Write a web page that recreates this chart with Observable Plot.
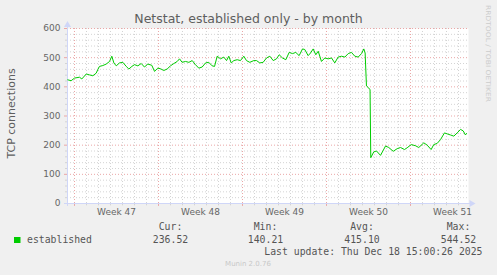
<!DOCTYPE html>
<html><head><meta charset="utf-8">
<script src="https://cdn.jsdelivr.net/npm/d3@7"></script>
<script src="https://cdn.jsdelivr.net/npm/@observablehq/plot@0.6"></script>
<style>
html,body{margin:0;padding:0;background:#f0f0f0;}
#chart{position:relative;width:497px;height:275px;background:#f0f0f0;overflow:hidden;}
</style></head><body><div id="chart"></div>
<script>
// ---- data ----
const title = "Netstat, established only - by month";
const yLabel = "TCP connections";
const weekLabels = ["Week 47", "Week 48", "Week 49", "Week 50", "Week 51"];
const weekStarts = ["2025-11-17", "2025-11-24", "2025-12-01", "2025-12-08", "2025-12-15"];
const xStart = "2025-11-16T10:00:00Z";
const xEnd = "2025-12-19T20:00:00Z";
const yTicks = [0, 100, 200, 300, 400, 500, 600];
// days since Mon 2025-11-17 00:00 UTC
const dayOffsets = [
  -0.56, -0.28, 0, 0.42, 0.61, 0.98, 1.25, 1.53, 1.81, 1.94, 2.08, 2.36, 2.64, 2.92, 3.11, 3.28, 3.48, 3.75,
  4.03, 4.31, 4.53, 4.78, 5.0, 5.28, 5.56, 5.83, 6.11, 6.44, 6.67, 6.94,
  7.17, 7.44, 7.72, 8.0, 8.28, 8.56, 8.75, 8.97, 9.25, 9.53, 9.81, 10.08, 10.36, 10.64, 10.92, 11.19, 11.47,
  11.67, 11.89, 12.17, 12.44, 12.67, 12.86, 13.06, 13.28, 13.56, 13.83, 14.11, 14.33, 14.61, 14.94,
  15.17, 15.44, 15.72, 16.0, 16.28, 16.56, 16.83, 17.06, 17.33, 17.61, 17.89, 18.17, 18.44, 18.72, 19.0,
  19.19, 19.47, 19.67, 19.89, 20.11, 20.31, 20.58, 20.86, 21.14, 21.42, 21.69, 21.97, 22.25, 22.53, 22.81,
  23.08, 23.36, 23.64, 23.92, 24.11, 24.22, 24.33, 24.5, 24.63, 24.69,
  24.94, 25.17, 25.5, 25.92, 26.19, 26.56, 26.89, 27.17, 27.5, 27.72, 28.06, 28.42, 28.69, 29.11, 29.39,
  29.72, 29.94, 30.22, 30.5, 30.83, 31.11, 31.33, 31.61, 31.89, 32.17, 32.39, 32.58, 32.67
];
const established = [
  424, 421, 430, 433, 427, 444, 441, 438, 447, 459, 470, 473, 478, 487, 505, 482, 472, 482,
  484, 470, 461, 470, 476, 472, 480, 468, 478, 474, 453, 464,
  462, 456, 461, 472, 480, 487, 496, 484, 487, 484, 490, 476, 464, 468, 482, 484, 472,
  470, 505, 496, 502, 490, 505, 482, 490, 493, 490, 505, 490, 484, 490,
  490, 482, 484, 499, 505, 490, 496, 510, 499, 493, 518, 514, 518, 507, 530,
  528, 507, 516, 530, 510, 522, 487, 499, 496, 499, 482, 502, 505, 502, 514,
  518, 505, 502, 514, 530, 516, 403, 397, 390, 157,
  177, 180, 165, 197, 192, 179, 188, 192, 185, 191, 202, 198, 192, 208, 200,
  185, 202, 206, 219, 242, 238, 235, 231, 242, 254, 249, 235, 240
];
const seriesName = "established";
const seriesColor = "#00CC00";
const statLabels = ["Cur:", "Min:", "Avg:", "Max:"];
const statValues = ["236.52", "140.21", "415.10", "544.52"];
const lastUpdate = "Last update: Thu Dec 18 15:00:26 2025";
const footer = "Munin 2.0.76";
const watermark = "RRDTOOL / TOBI OETIKER";

// ---- derived ----
const base = new Date(weekStarts[0] + "T00:00:00Z");
const DAY = 864e5;
const data = dayOffsets.map((d, i) => ({t: new Date(+base + d * DAY), v: established[i]}));
const x0 = new Date(xStart), x1 = new Date(xEnd);
const weekDates = weekStarts.map(s => new Date(s + "T00:00:00Z"));
const weekKeys = new Set(weekDates.map(d => +d));
const days = d3.utcDay.range(d3.utcDay.ceil(x0), x1);
const minorDays = days.filter(d => !weekKeys.has(+d));
const weekMids = weekDates.map(d => new Date(+d + 3.5 * DAY));
const minorY = d3.range(0, 601, 20).filter(v => v % 100 !== 0);

const GRID = "#d4d4d4";
const MGRID = "#eaa7a7";
const AXIS = "#CFD6F8";
const FONT = "#666666";
const dash = "1,2";
const hr = 3600e3;

const plot = Plot.plot({
  width: 497,
  height: 275,
  marginLeft: 67,
  marginRight: 29,
  marginTop: 28,
  marginBottom: 72,
  style: {background: "#f0f0f0", fontFamily: "DejaVu Sans", fontSize: "9px", color: FONT},
  x: {type: "utc", domain: [x0, x1], axis: null},
  y: {domain: [0, 600], ticks: yTicks, tickSize: 0, tickPadding: 7, label: null, tickFormat: d => String(d)},
  marks: [
    Plot.frame({fill: "white", stroke: null}),
    Plot.ruleY(minorY, {stroke: GRID, strokeDasharray: dash}),
    Plot.ruleX(minorDays, {stroke: GRID, strokeDasharray: dash}),
    Plot.ruleY(yTicks, {stroke: MGRID, strokeDasharray: dash}),
    Plot.ruleX(weekDates, {stroke: MGRID, strokeDasharray: dash}),
    // small ticks below x axis and left of y axis
    Plot.ruleX(minorDays, {y1: 0, y2: -8, stroke: GRID}),
    Plot.ruleX(weekDates, {y1: 0, y2: -10, stroke: MGRID}),
    Plot.ruleY(minorY, {x1: new Date(+x0 - 4 * hr), x2: x0, stroke: GRID}),
    Plot.ruleY(yTicks, {x1: new Date(+x0 - 6 * hr), x2: x0, stroke: MGRID}),
    // axes
    Plot.ruleY([0], {x1: new Date(+x0 - 6 * hr), x2: new Date(+x1 + 4 * hr), stroke: AXIS}),
    Plot.ruleX([x0], {y1: -10, y2: 612, stroke: AXIS}),
    Plot.dot([{t: x0, v: 612}], {x: "t", y: "v", symbol: "triangle", r: 2.6, fill: AXIS, stroke: null}),
    Plot.dot([{t: new Date(+x1 + 6 * hr), v: 0}], {x: "t", y: "v", symbol: "triangle", r: 2.6, fill: AXIS, stroke: null, rotate: 90}),
    // series
    Plot.line(data, {x: "t", y: "v", stroke: seriesColor, strokeWidth: 1}),
    // week labels
    Plot.text(weekLabels, {x: (d, i) => weekMids[i], y: () => 0, dy: 9, fill: FONT, fontSize: 9})
  ]
});
document.getElementById("chart").appendChild(plot);

const svg = d3.select(plot);
function txt(x, y, s, o = {}) {
  const t = svg.append("text")
    .attr("x", x).attr("y", y).attr("dy", "0.35em")
    .attr("text-anchor", o.anchor || "middle")
    .attr("fill", o.fill || FONT)
    .attr("font-family", o.family || "DejaVu Sans")
    .attr("font-size", o.size || 9)
    .text(s);
  if (o.transform) t.attr("transform", o.transform).attr("x", 0).attr("y", 0);
  if (o.textLength) t.attr("textLength", o.textLength).attr("lengthAdjust", "spacingAndGlyphs");
  return t;
}
txt(248.5, 18.5, title, {size: 12.5, fill: "#5e5e5e"});
txt(0, 0, yLabel, {size: 11, transform: "translate(11,113.5) rotate(-90)", fill: "#5e5e5e"});
txt(0, 0, watermark, {size: 6.5, fill: "#cccccc", transform: "translate(488,53.5) rotate(90)", textLength: 97});

// legend
const mono = "DejaVu Sans Mono";
svg.append("rect").attr("x", 14).attr("y", 237).attr("width", 6.5).attr("height", 6).attr("fill", seriesColor);
txt(27, 240, seriesName, {anchor: "start", family: mono, size: 9.8, fill: "#555"});
const statX = [170.5, 265.5, 362, 458.5];
statLabels.forEach((s, i) => txt(statX[i], 227, s, {family: mono, size: 9.8, fill: "#555"}));
statValues.forEach((s, i) => txt(statX[i], 240, s, {family: mono, size: 9.8, fill: "#555"}));
txt(482.5, 252, lastUpdate, {anchor: "end", family: mono, size: 9.8, fill: "#555"});
txt(248, 263.5, footer, {size: 7, fill: "#c8c8c8"});
</script>
</body></html>
